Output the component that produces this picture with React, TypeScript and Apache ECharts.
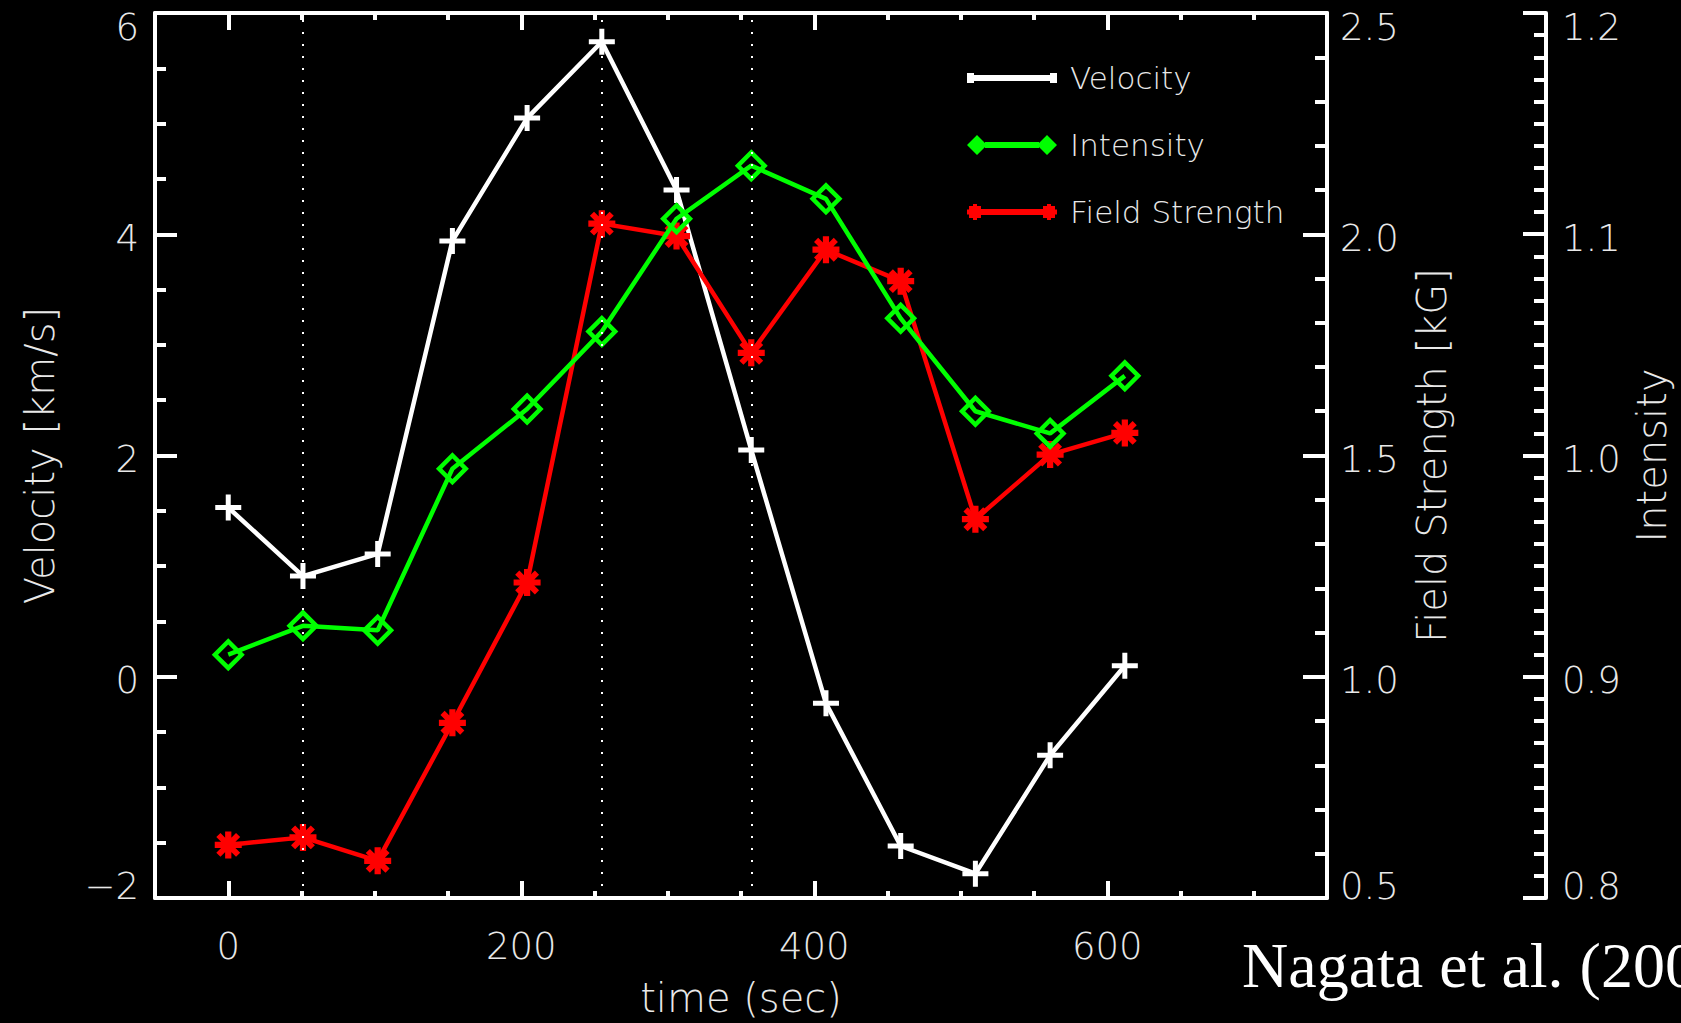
import React, { useEffect, useRef } from 'react';
import * as echarts from 'echarts';

// ---- data ----
const times = [0, 51, 102, 153, 204, 255, 306, 357, 408, 459, 510, 561, 612];
const velocity = [1.53, 0.91, 1.11, 3.94, 5.05, 5.74, 4.4, 2.05, -0.24, -1.53, -1.78, -0.71, 0.1];
const intensity = [0.91, 0.923, 0.921, 0.994, 1.021, 1.056, 1.107, 1.131, 1.116, 1.062, 1.02, 1.01, 1.036];
const fieldStrength = [0.62, 0.637, 0.584, 0.896, 1.213, 2.024, 1.996, 1.732, 1.965, 1.894, 1.356, 1.502, 1.551];
const markerTimes = [51, 255, 357];

// ---- ticks ----
const timeMajorTicks = [0, 200, 400, 600];
const timeMinorTicks = [50, 100, 150, 250, 300, 350, 450, 500, 550, 650, 700];
const timeTickLabels = ['0', '200', '400', '600'];
const velTickLabels = ['\u22122', '0', '2', '4', '6'];
const fieldTickLabels = ['0.5', '1.0', '1.5', '2.0', '2.5'];
const intTickLabels = ['0.8', '0.9', '1.0', '1.1', '1.2'];

const FONT = 'DejaVu Sans';
const FW = 200;
const TXT = '#e8e8e8';
const AX = '#ffffff';

const PLUS = 'path://M-13,-2.5 H13 V2.5 H-13 Z M-2.5,-13 H2.5 V13 H-2.5 Z';
const DIAMOND = 'path://M0,-17 L17,0 L0,17 L-17,0 Z M0,-10.5 L-10.5,0 L0,10.5 L10.5,0 Z';
const ASTER =
  'path://M-13,-3 H13 V3 H-13 Z M-3,-13 H3 V13 H-3 Z M-11.5,-7.5 L-7.5,-11.5 L11.5,7.5 L7.5,11.5 Z M7.5,-11.5 L11.5,-7.5 L-7.5,11.5 L-11.5,7.5 Z M-7,-7 H7 V7 H-7 Z';

const LEG_VEL = 'path://M3,2 H87 V8 H3 Z M0,0 H7 V10 H0 Z M83,0 H90 V10 H83 Z';
const LEG_INT = 'path://M0,10 L10,0 L20,10 L10,20 Z M18,7 H72 V13 H18 Z M70,10 L80,0 L90,10 L80,20 Z';
const LEG_FS =
  'path://M6,6 H84 V12 H6 Z M0,6.5 H16 V11.5 H0 Z M6,1 H10 V17 H6 Z M2,3 H14 V15 H2 Z M74,6.5 H90 V11.5 H74 Z M80,1 H84 V17 H80 Z M76,3 H88 V15 H76 Z';

function yLabel(labels: string[], min: number, interval: number, margin: number) {
  const base = { fontSize: 37, fontFamily: FONT, fontWeight: FW, color: TXT };
  return {
    show: true,
    margin,
    ...base,
    formatter: (v: number) => {
      const i = Math.round((v - min) / interval);
      const s = labels[i] ?? '';
      if (i === labels.length - 1) return `{t|${s}}`;
      if (i === 0) return `{b|${s}}`;
      return `{m|${s}}`;
    },
    rich: {
      t: { ...base, padding: [28, 0, 0, 0] },
      b: { ...base, padding: [0, 0, 24, 0] },
      m: { ...base, padding: [8, 0, 0, 0] },
    },
  };
}

const nameStyle = { fontSize: 40, fontFamily: FONT, fontWeight: FW, color: TXT };
const axLine = { show: true, onZero: false, lineStyle: { color: AX, width: 4 } };

export default function App() {
  const ref = useRef<HTMLDivElement>(null);

  useEffect(() => {
    if (!ref.current) return;
    const chart = echarts.init(ref.current, undefined, { renderer: 'svg' });

    const xBase = { type: 'value', min: -50, max: 750, splitLine: { show: false } };

    const option: any = {
      animation: false,
      backgroundColor: '#000',
      grid: { left: 155, top: 13, right: 354, bottom: 124, containLabel: false },
      legend: {
        orient: 'vertical',
        left: 967,
        top: 62,
        padding: 0,
        itemWidth: 90,
        itemHeight: 24,
        itemGap: 35,
        selectedMode: false,
        textStyle: { color: TXT, fontSize: 31, fontFamily: FONT, fontWeight: FW, lineHeight: 32, padding: [0, 0, 0, 8] },
        data: [
          { name: 'Velocity', icon: LEG_VEL, itemStyle: { color: '#ffffff' } },
          { name: 'Intensity', icon: LEG_INT, itemStyle: { color: '#00ff00' } },
          { name: 'Field Strength', icon: LEG_FS, itemStyle: { color: '#ff0000' } },
        ],
      },
      xAxis: [
        {
          ...xBase,
          position: 'bottom',
          name: 'time (sec)',
          nameLocation: 'middle',
          nameGap: 80,
          nameTextStyle: nameStyle,
          axisLine: axLine,
          axisTick: { show: true, inside: true, length: 17, customValues: timeMajorTicks, lineStyle: { color: AX, width: 4 } },
          axisLabel: {
            show: true,
            customValues: timeMajorTicks,
            margin: 30,
            fontSize: 37,
            fontFamily: FONT,
            fontWeight: FW,
            color: TXT,
            formatter: (v: number) => timeTickLabels[timeMajorTicks.indexOf(v)] ?? '',
          },
        },
        {
          ...xBase,
          position: 'bottom',
          axisLine: { show: false, onZero: false },
          axisTick: { show: true, inside: true, length: 7, customValues: timeMinorTicks, lineStyle: { color: AX, width: 4 } },
          axisLabel: { show: false },
        },
        {
          ...xBase,
          position: 'top',
          axisLine: axLine,
          axisTick: { show: true, inside: true, length: 17, customValues: timeMajorTicks, lineStyle: { color: AX, width: 4 } },
          axisLabel: { show: false },
        },
        {
          ...xBase,
          position: 'top',
          axisLine: { show: false, onZero: false },
          axisTick: { show: true, inside: true, length: 7, customValues: timeMinorTicks, lineStyle: { color: AX, width: 4 } },
          axisLabel: { show: false },
        },
      ],
      yAxis: [
        {
          type: 'value',
          position: 'left',
          min: -2,
          max: 6,
          interval: 2,
          name: 'Velocity [km/s]',
          nameLocation: 'middle',
          nameRotate: 90,
          nameGap: 95,
          nameTextStyle: nameStyle,
          splitLine: { show: false },
          axisLine: axLine,
          axisTick: { show: true, inside: true, length: 22, lineStyle: { color: AX, width: 4 } },
          minorTick: { show: true, splitNumber: 4, length: 11, lineStyle: { color: AX, width: 4 } },
          axisLabel: yLabel(velTickLabels, -2, 2, 16),
        },
        {
          type: 'value',
          position: 'right',
          min: 0.5,
          max: 2.5,
          interval: 0.5,
          name: 'Field Strength [kG]',
          nameLocation: 'middle',
          nameRotate: 90,
          nameGap: 85,
          nameTextStyle: nameStyle,
          splitLine: { show: false },
          axisLine: axLine,
          axisTick: { show: true, inside: true, length: 24, lineStyle: { color: AX, width: 4 } },
          minorTick: { show: true, splitNumber: 5, length: 12, lineStyle: { color: AX, width: 4 } },
          axisLabel: yLabel(fieldTickLabels, 0.5, 0.5, 13),
        },
        {
          type: 'value',
          position: 'right',
          offset: 219,
          min: 0.8,
          max: 1.2,
          interval: 0.1,
          name: 'Intensity',
          nameLocation: 'middle',
          nameRotate: 90,
          nameGap: 84,
          nameTextStyle: nameStyle,
          splitLine: { show: false },
          axisLine: axLine,
          axisTick: { show: true, inside: true, length: 23, lineStyle: { color: AX, width: 4 } },
          minorTick: { show: true, splitNumber: 10, length: 12, lineStyle: { color: AX, width: 4 } },
          axisLabel: yLabel(intTickLabels, 0.8, 0.1, 16),
        },
      ],
      series: [
        {
          type: 'line',
          name: 'Velocity',
          xAxisIndex: 0,
          yAxisIndex: 0,
          data: times.map((t, i) => [t, velocity[i]]),
          symbol: PLUS,
          symbolSize: 26,
          showAllSymbol: true,
          itemStyle: { color: '#ffffff' },
          lineStyle: { color: '#ffffff', width: 4.5 },
          emphasis: { disabled: true },
          z: 2,
          markLine: {
            silent: true,
            symbol: ['none', 'none'],
            label: { show: false },
            lineStyle: { color: '#ffffff', width: 2, type: [2, 10], opacity: 1 },
            emphasis: { disabled: true },
            data: markerTimes.map((t) => ({ xAxis: t })),
          },
        },
        {
          type: 'line',
          name: 'Field Strength',
          xAxisIndex: 0,
          yAxisIndex: 1,
          data: times.map((t, i) => [t, fieldStrength[i]]),
          symbol: ASTER,
          symbolSize: 27,
          showAllSymbol: true,
          itemStyle: { color: '#ff0000' },
          lineStyle: { color: '#ff0000', width: 4.5 },
          emphasis: { disabled: true },
          z: 3,
        },
        {
          type: 'line',
          name: 'Intensity',
          xAxisIndex: 0,
          yAxisIndex: 2,
          data: times.map((t, i) => [t, intensity[i]]),
          symbol: DIAMOND,
          symbolSize: 33,
          showAllSymbol: true,
          itemStyle: { color: '#00ff00' },
          lineStyle: { color: '#00ff00', width: 4.5 },
          emphasis: { disabled: true },
          z: 4,
        },
      ],
      graphic: [
        {
          type: 'text',
          x: 1242,
          y: 965,
          silent: true,
          style: {
            text: 'Nagata et al. (2008)',
            fontFamily: 'Liberation Serif',
            fontSize: 64,
            fill: '#ffffff',
            align: 'left',
            verticalAlign: 'middle',
          },
        },
      ],
    };

    chart.setOption(option);
    return () => chart.dispose();
  }, []);

  return (
    <div
      ref={ref}
      style={{ position: 'fixed', left: 0, top: 0, width: 1681, height: 1023, background: '#000' }}
    />
  );
}
